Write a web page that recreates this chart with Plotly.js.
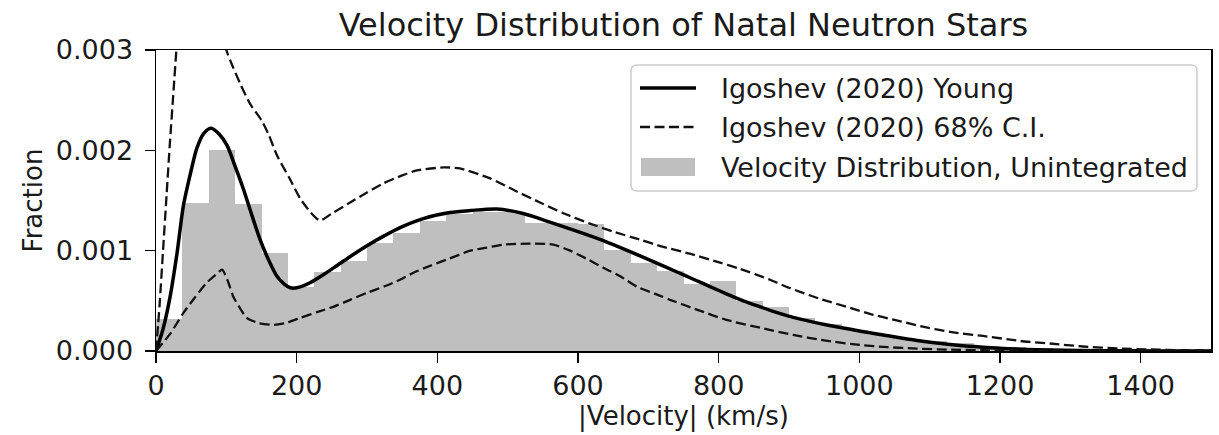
<!DOCTYPE html>
<html>
<head>
<meta charset="utf-8">
<script src="https://cdn.plot.ly/plotly-3.0.1.min.js"></script>
<style>
  html, body { margin: 0; padding: 0; background: #ffffff; }
  #chart { width: 1219px; height: 435px; }
</style>
</head>
<body>
<div id="chart"></div>
<script>
// Histogram of natal velocities: 40 bins of 37.5 km/s from 0 to 1500 km/s
const binWidth = 37.5;
const binFraction = [
  0.00032, 0.00148, 0.00200, 0.00147, 0.00098, 0.00064, 0.00079, 0.00090,
  0.00108, 0.00118, 0.00130, 0.00137, 0.00139, 0.00139, 0.00128, 0.00128,
  0.00127, 0.00101, 0.00088, 0.00080, 0.00067, 0.00070, 0.00050, 0.00044,
  0.00033, 0.00027, 0.00021, 0.00016, 0.00012, 0.00010, 0.00008, 0.00005,
  0.00004, 0.00003, 0.00002, 0.00001, 0.00001, 0.00000, 0.00000, 0.00000
];
const binCenters = binFraction.map((_, i) => (i + 0.5) * binWidth);

// Igoshev (2020) young pulsar model
const modelV = [0, 10, 20, 30, 39, 50, 58, 68, 78.5, 90, 101, 112, 124, 136, 148, 160,
  172, 182, 191, 200, 219, 240, 257, 280, 300, 325, 347, 380, 418, 447, 485, 522,
  560, 598, 636, 674, 712, 740, 764, 790, 811, 835, 859, 882, 906, 930, 954, 977,
  1000, 1034, 1082, 1129, 1176, 1230, 1271, 1350, 1420, 1500];
const modelF = [0, 0.00022, 0.00054, 0.00098, 0.00145, 0.00180, 0.00202, 0.00217,
  0.00222, 0.00216, 0.00205, 0.00185, 0.00162, 0.00136, 0.00111, 0.00091, 0.000745,
  0.00067, 0.00063, 0.00063, 0.00068, 0.00077, 0.00085, 0.00096, 0.00105, 0.00115,
  0.00123, 0.00132, 0.00138, 0.00140, 0.001415, 0.00137, 0.001285, 0.001195, 0.00110,
  0.00099, 0.000875, 0.00079, 0.000715, 0.000635, 0.00057, 0.00050, 0.00044,
  0.000385, 0.000335, 0.000295, 0.00026, 0.00023, 0.00020, 0.00016, 0.000105,
  0.000065, 0.000038, 0.000018, 0.000009, 0.000003, 0.000001, 0];

// Upper bound of the 68% credible interval
const upperV = [0, 5, 10, 15, 20, 25, 30, 40, 60, 80, 95, 100, 110, 120, 134, 150,
  160, 172, 190, 205, 220, 233, 250, 276, 300, 323, 350, 371, 409, 432, 475, 510,
  546, 580, 617, 650, 688, 720, 759, 802, 830, 873, 900, 944, 987, 1015, 1050,
  1086, 1129, 1176, 1229, 1271, 1318, 1370, 1414, 1460, 1500];
const upperF = [0, 0.00045, 0.00100, 0.00155, 0.00210, 0.00260, 0.00310, 0.00400,
  0.00460, 0.00400, 0.00320, 0.00300, 0.00282, 0.00266, 0.00246, 0.00230, 0.00216,
  0.00195, 0.00172, 0.00152, 0.00138, 0.00130, 0.00137, 0.00148, 0.00158, 0.00167,
  0.00175, 0.00180, 0.00183, 0.00182, 0.00172, 0.00160, 0.00148, 0.00137, 0.00127,
  0.00119, 0.00111, 0.00104, 0.00097, 0.00088, 0.00082, 0.00071, 0.00063, 0.00052,
  0.00043, 0.00037, 0.00031, 0.00025, 0.00019, 0.00015, 0.00010, 0.000075, 0.000045,
  0.000025, 0.000015, 0.000008, 0.000005];

// Lower bound of the 68% credible interval
const lowerV = [0, 20, 39, 55, 72, 85, 94, 102, 110, 120, 129, 145, 167, 185, 205,
  230, 252, 276, 300, 325, 347, 366, 390, 413, 447, 470, 494, 530, 565, 589, 612,
  636, 660, 684, 717, 731, 770, 811, 860, 906, 950, 1001, 1040, 1082, 1130, 1176,
  1250, 1350, 1500];
const lowerF = [0, 0.00017, 0.00038, 0.00053, 0.00068, 0.00076, 0.00081, 0.00070,
  0.00054, 0.00042, 0.00033, 0.00028, 0.00026, 0.00028, 0.00033, 0.00039, 0.00044,
  0.00051, 0.00058, 0.000645, 0.00071, 0.00078, 0.00085, 0.00091, 0.00100, 0.00103,
  0.00106, 0.00107, 0.00106, 0.00100, 0.00092, 0.00083, 0.000745, 0.00064, 0.00055,
  0.00051, 0.00041, 0.00031, 0.00023, 0.00016, 0.000105, 0.00006, 0.000038, 0.000024,
  0.000013, 0.000008, 0.000003, 0.000001, 0];

const xTicks = [0, 200, 400, 600, 800, 1000, 1200, 1400];
const yTicks = [0, 0.001, 0.002, 0.003];

const legendLabels = [
  'Igoshev (2020) Young',
  'Igoshev (2020) 68% C.I.',
  'Velocity Distribution, Unintegrated'
];

const font = 'DejaVu Sans, Liberation Sans, sans-serif';
const ink = '#1a1a1a';
const barGrey = '#bfbfbf';
const dashStyle = '10px,4.5px';

// Figure geometry (pixels)
const W = 1219, H = 435;
const M = { l: 156, r: 8, t: 50, b: 84 };
const plotW = W - M.l - M.r, plotH = H - M.t - M.b;
const px = x => (x - M.l) / plotW;          // pixel column -> paper x
const py = y => (H - M.b - y) / plotH;      // pixel row -> paper y

const traces = [
  {
    type: 'bar', x: binCenters, y: binFraction, width: binWidth,
    name: legendLabels[2],
    marker: { color: barGrey, line: { width: 0 } }
  },
  {
    type: 'scatter', mode: 'lines', x: modelV, y: modelF,
    name: legendLabels[0],
    line: { color: '#000000', width: 3.5, shape: 'spline', smoothing: 0.8 }
  },
  {
    type: 'scatter', mode: 'lines', x: upperV, y: upperF,
    name: legendLabels[1],
    line: { color: '#111111', width: 2.3, dash: dashStyle, shape: 'spline', smoothing: 0.6 }
  },
  {
    type: 'scatter', mode: 'lines', x: lowerV, y: lowerF,
    name: legendLabels[1] + ' (lower)',
    line: { color: '#111111', width: 2.3, dash: dashStyle, shape: 'spline', smoothing: 0.6 }
  }
];

// Legend frame with rounded corners, drawn in paper space
function roundedBox(x0, y0, x1, y1, r) {
  const rx = r / plotW, ry = r / plotH;
  const X0 = px(x0), X1 = px(x1), Yt = py(y0), Yb = py(y1);
  return 'M' + (X0 + rx) + ',' + Yt +
    ' L' + (X1 - rx) + ',' + Yt + ' Q' + X1 + ',' + Yt + ' ' + X1 + ',' + (Yt - ry) +
    ' L' + X1 + ',' + (Yb + ry) + ' Q' + X1 + ',' + Yb + ' ' + (X1 - rx) + ',' + Yb +
    ' L' + (X0 + rx) + ',' + Yb + ' Q' + X0 + ',' + Yb + ' ' + X0 + ',' + (Yb + ry) +
    ' L' + X0 + ',' + (Yt - ry) + ' Q' + X0 + ',' + Yt + ' ' + (X0 + rx) + ',' + Yt + ' Z';
}

const legendBox = { x0: 631, y0: 65, x1: 1197, y1: 191 };
const rowY = [88, 127, 167];
const sampleX = [640, 696];
const textX = 719;

const shapes = [
  {
    type: 'path', xref: 'paper', yref: 'paper', layer: 'above',
    path: roundedBox(legendBox.x0, legendBox.y0, legendBox.x1, legendBox.y1, 6),
    fillcolor: 'rgba(255,255,255,0.85)', line: { color: '#cccccc', width: 1.5 }
  },
  {
    type: 'line', xref: 'paper', yref: 'paper', layer: 'above',
    x0: px(sampleX[0]), x1: px(sampleX[1]), y0: py(rowY[0]), y1: py(rowY[0]),
    line: { color: '#000000', width: 3.5 }
  },
  {
    type: 'line', xref: 'paper', yref: 'paper', layer: 'above',
    x0: px(sampleX[0]), x1: px(sampleX[1]), y0: py(rowY[1]), y1: py(rowY[1]),
    line: { color: '#111111', width: 2.3, dash: dashStyle }
  },
  {
    type: 'rect', xref: 'paper', yref: 'paper', layer: 'above',
    x0: px(sampleX[0] + 1), x1: px(sampleX[1] - 1), y0: py(rowY[2] - 9), y1: py(rowY[2] + 9),
    fillcolor: barGrey, line: { width: 0 }
  }
];

const annotations = legendLabels.map((t, i) => ({
  text: t, xref: 'paper', yref: 'paper', x: px(textX), y: py(rowY[i]),
  xanchor: 'left', yanchor: 'middle', showarrow: false,
  font: { family: font, size: 27, color: ink }
}));

const axisCommon = {
  showgrid: false, zeroline: false,
  showline: true, mirror: true, linecolor: '#000000', linewidth: 1.5,
  ticks: 'outside', ticklen: 10, tickwidth: 1.5, tickcolor: '#000000',
  tickfont: { family: font, size: 27, color: ink }
};

const layout = {
  width: W, height: H,
  margin: M,
  paper_bgcolor: '#ffffff', plot_bgcolor: '#ffffff',
  font: { family: font, color: ink },
  showlegend: false,
  title: {
    text: 'Velocity Distribution of Natal Neutron Stars',
    font: { family: font, size: 32, color: ink },
    x: (M.l + plotW / 2) / W, xanchor: 'center', y: 1 - 25 / H, yanchor: 'middle'
  },
  bargap: 0,
  xaxis: Object.assign({}, axisCommon, {
    range: [0, 1500], tickvals: xTicks, ticktext: xTicks.map(String),
    title: { text: '|Velocity| (km/s)', font: { family: font, size: 26, color: ink }, standoff: 3 }
  }),
  yaxis: Object.assign({}, axisCommon, {
    range: [0, 0.003], tickvals: yTicks, ticktext: yTicks.map(v => v.toFixed(3)),
    ticklabelstandoff: 6,
    title: { text: 'Fraction', font: { family: font, size: 26, color: ink }, standoff: 5 }
  }),
  shapes: shapes,
  annotations: annotations
};

Plotly.newPlot('chart', traces, layout, { staticPlot: true, displayModeBar: false });
</script>
</body>
</html>
